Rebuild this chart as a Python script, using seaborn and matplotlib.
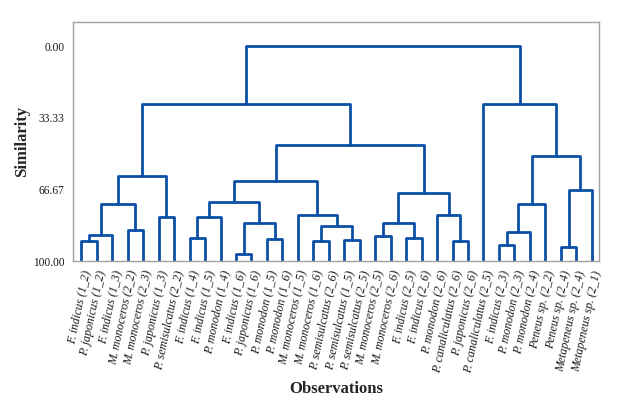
import numpy as np
import pandas as pd
import seaborn as sns
import matplotlib.pyplot as plt

# Leaf labels, left to right
labels = [
    "F. indicus (1_2)", "P. japonicus (1_2)", "F. indicus (1_3)",
    "M. monoceros (2_2)", "M. monoceros (2_3)", "P. japonicus (1_3)",
    "P. semisulcatus (2_2)", "F. indicus (1_4)", "F. indicus (1_5)",
    "P. monodon (1_4)", "F. indicus (1_6)", "P. japonicus (1_6)",
    "P. monodon (1_5)", "P. monodon (1_6)", "M. monoceros (1_5)",
    "M. monoceros (1_6)", "P. semisulcatus (2_6)", "P. semisulcatus (1_5)",
    "P. semisulcatus (2_5)", "M. monoceros (2_5)", "M. monoceros (2_6)",
    "F. indicus (2_5)", "F. indicus (2_6)", "P. monodon (2_6)",
    "P. canaliculatus (2_6)", "P. japonicus (2_6)", "P. canaliculatus (2_5)",
    "F. indicus (2_3)", "P. monodon (2_3)", "P. monodon (2_4)",
    "Peneus sp. (2_2)", "Peneus sp. (2_4)", "Metapeneus sp. (2_4)",
    "Metapeneus sp. (2_1)",
]

# Merge table: node ids 0..33 are leaves, each merge creates node 34, 35, ...
left_node = [0, 34, 3, 35, 5, 37, 7, 40, 10, 12, 42, 41, 15, 17, 46, 14, 45,
             19, 21, 51, 24, 23, 53, 50, 39, 27, 59, 60, 31, 62, 61, 26, 58]
right_node = [1, 2, 4, 36, 6, 38, 8, 9, 11, 13, 43, 44, 16, 18, 47, 48, 49,
              20, 22, 52, 25, 54, 55, 56, 57, 28, 29, 30, 32, 33, 63, 64, 65]
similarity = [90.7, 87.7, 85.8, 73.4, 79.7, 60.5, 89.5, 79.3, 96.9, 89.6, 82.2,
              72.4, 90.7, 90.2, 83.6, 78.8, 62.9, 88.4, 89.1, 82.1, 90.7, 78.8,
              68.2, 46.0, 27.1, 92.4, 86.3, 73.7, 93.3, 67.0, 51.0, 27.1, 0.0]

n = len(labels)
pos = {i: i + 1 for i in range(n)}
height = {i: 100.0 for i in range(n)}
rows = []
for k, (a, b, s) in enumerate(zip(left_node, right_node, similarity)):
    node = n + k
    xa, xb = pos[a], pos[b]
    rows += [(node, 0, xa, height[a]), (node, 1, xa, s),
             (node, 2, xb, s), (node, 3, xb, height[b])]
    pos[node] = (xa + xb) / 2
    height[node] = s
df = pd.DataFrame(rows, columns=["node", "step", "x", "sim"])

sns.set_style("white")
plt.rcParams["font.family"] = ["Liberation Serif", "DejaVu Serif"]

blue = "#0b4fa6"
fig = plt.figure(figsize=(6.27, 4.13), dpi=100)
ax = fig.add_axes([0.1164, 0.368, 0.8389, 0.5787])

sns.lineplot(data=df, x="x", y="sim", units="node", estimator=None, sort=False,
             color=blue, linewidth=2.0, ax=ax, legend=False)

ax.set_xlim(0.46, n + 0.47)
ax.set_ylim(100, -11.2)

ax.set_yticks([0, 33.33, 66.67, 100])
ax.set_yticklabels(["0.00", "33.33", "66.67", "100.00"], fontsize=8.3, color="#1a1a1a")
ax.set_xticks(range(1, n + 1))
ax.set_xticklabels(labels, rotation=78, ha="right", rotation_mode="anchor",
                   style="italic", fontsize=8.6, color="#1a1a1a")

ax.tick_params(axis="y", direction="out", length=4, width=0.8, color="#888888", pad=2)
ax.tick_params(axis="x", direction="out", length=3, width=0.8, color=blue, pad=3)

for sp in ax.spines.values():
    sp.set_color("#a0a0a0")
    sp.set_linewidth(1)

ax.set_xlabel("Observations", fontsize=12, fontweight="bold")
ax.set_ylabel("Similarity", fontsize=12, fontweight="bold")
ax.xaxis.set_label_coords(0.5, -0.5)
ax.yaxis.set_label_coords(-0.082, 0.5)

fig.savefig("out.png", dpi=100)
